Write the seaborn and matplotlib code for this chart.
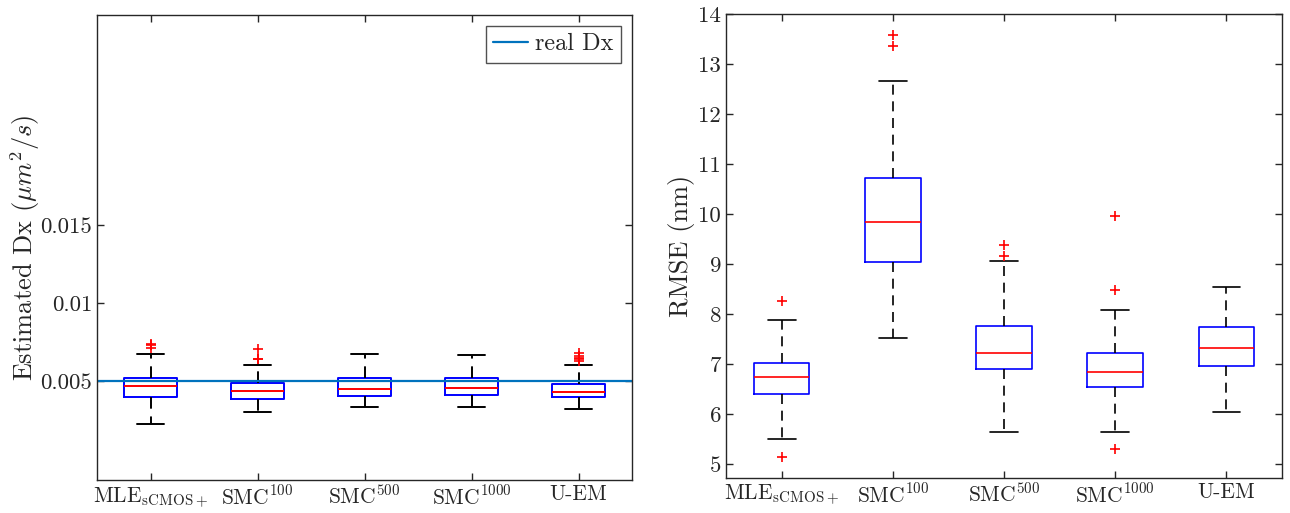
import matplotlib
matplotlib.use("Agg")
import matplotlib.pyplot as plt
import seaborn as sns

# categories
methods = [r"MLE$_{\mathrm{sCMOS+}}$", r"SMC$^{100}$", r"SMC$^{500}$",
           r"SMC$^{1000}$", "U-EM"]

# left panel: estimated Dx (um^2/s)
real_dx = 0.005
dx_wlo = [0.00228, 0.00305, 0.00333, 0.00333, 0.00324]
dx_q1 = [0.00397, 0.00384, 0.00407, 0.00412, 0.00397]
dx_med = [0.00472, 0.00436, 0.00452, 0.00457, 0.00431]
dx_q3 = [0.00519, 0.00487, 0.00519, 0.00523, 0.00481]
dx_whi = [0.00674, 0.00605, 0.00677, 0.00667, 0.00603]
dx_out = [[0.0071, 0.0073, 0.0074],
          [0.0064, 0.00645, 0.00706],
          [],
          [],
          [0.0063, 0.0064, 0.0065, 0.0066, 0.0068]]

# right panel: RMSE (nm)
rmse_wlo = [5.50, 7.53, 5.65, 5.64, 6.05]
rmse_q1 = [6.41, 9.05, 6.90, 6.54, 6.97]
rmse_med = [6.75, 9.85, 7.23, 6.85, 7.32]
rmse_q3 = [7.02, 10.72, 7.77, 7.23, 7.75]
rmse_whi = [7.88, 12.67, 9.07, 8.09, 8.54]
rmse_out = [[5.15, 8.27], [13.37, 13.58], [9.17, 9.39], [5.31, 8.48, 9.97], []]

sns.set_theme(style="ticks")
plt.rcParams["font.family"] = ["cmr10", "DejaVu Serif"]
plt.rcParams["mathtext.fontset"] = "cm"
plt.rcParams["axes.unicode_minus"] = False

DARK = "#262626"


def make_stats(wlo, q1, med, q3, whi, out):
    return [dict(whislo=a, q1=b, med=c, q3=d, whishi=e, fliers=f)
            for a, b, c, d, e, f in zip(wlo, q1, med, q3, whi, out)]


def draw_boxes(ax, stats, lw):
    ax.bxp(stats, positions=range(1, len(stats) + 1), widths=0.5, capwidths=0.25,
           boxprops=dict(color="blue", linewidth=lw),
           medianprops=dict(color="red", linewidth=lw),
           whiskerprops=dict(color="black", linewidth=lw, linestyle=(0, (6, 4))),
           capprops=dict(color="black", linewidth=lw),
           flierprops=dict(marker="+", markeredgecolor="red", markersize=7,
                           markeredgewidth=1.2, linestyle="none"))


def style_axes(ax):
    ax.set_xlim(0.5, 5.5)
    ax.set_xticks(range(1, 6))
    ax.set_xticklabels(methods)
    ax.tick_params(direction="in", top=True, right=True, length=5,
                   colors=DARK, width=1)
    ax.tick_params(axis="x", labelsize=15.5)
    ax.tick_params(axis="y", labelsize=16.5)
    for s in ax.spines.values():
        s.set_color(DARK)
        s.set_linewidth(1)
    ax.set_facecolor("white")


fig = plt.figure(figsize=(12.9, 5.13), dpi=100)

ax1 = fig.add_axes([0.0752, 0.0643, 0.4148, 0.9065])
draw_boxes(ax1, make_stats(dx_wlo, dx_q1, dx_med, dx_q3, dx_whi, dx_out), 1.4)
ax1.axhline(real_dx, color="#0072BD", linewidth=1.6, label="real Dx")
ax1.set_ylim(-0.00134, 0.0285)
ax1.set_yticks([0.005, 0.01, 0.015])
ax1.set_yticklabels(["0.005", "0.01", "0.015"])
style_axes(ax1)
ax1.set_ylabel(r"Estimated Dx $(\mu m^2/s)$", fontsize=19, color=DARK, labelpad=-1)
leg = ax1.legend(loc="upper right", fontsize=17.5, frameon=True, fancybox=False,
                 handlelength=1.45, borderpad=0.3, handletextpad=0.3,
                 borderaxespad=0.45)
leg.get_frame().set_edgecolor(DARK)
leg.get_frame().set_linewidth(1)
for t in leg.get_texts():
    t.set_color(DARK)

ax2 = fig.add_axes([0.5628, 0.0688, 0.431, 0.903])
draw_boxes(ax2, make_stats(rmse_wlo, rmse_q1, rmse_med, rmse_q3, rmse_whi, rmse_out), 1.2)
ax2.set_ylim(4.73, 14)
ax2.set_yticks(range(5, 15))
style_axes(ax2)
ax2.set_ylabel("RMSE (nm)", fontsize=19, color=DARK, labelpad=2.5)

fig.savefig("out.png", dpi=100, facecolor="white")
